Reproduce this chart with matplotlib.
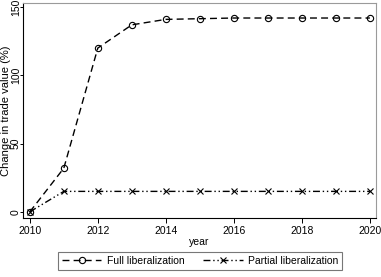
import matplotlib
matplotlib.use("Agg")
from matplotlib import pyplot as plt

years = [2010, 2011, 2012, 2013, 2014, 2015, 2016, 2017, 2018, 2019, 2020]
full_lib = [0, 32, 120, 137, 141, 141.5, 142, 142, 142, 142, 142]
partial_lib = [0, 15, 15, 15, 15, 15, 15, 15, 15, 15, 15]
x_ticks = [2010, 2012, 2014, 2016, 2018, 2020]
y_ticks = [0, 50, 100, 150]

plt.rcParams['font.family'] = ['Liberation Sans', 'DejaVu Sans']

fig = plt.figure(figsize=(3.81, 2.77), dpi=100)
ax = fig.add_axes([23 / 381, (277 - 218) / 277, (376 - 23) / 381, (218 - 3) / 277])

ax.plot(years, full_lib, color='black', lw=1.0, dashes=(5, 3),
        marker='o', ms=4.5, mfc='none', mec='black', mew=0.8,
        label='Full liberalization')
ax.plot(years, partial_lib, color='black', lw=1.0, dashes=(5, 2, 1, 2, 1, 2),
        marker='x', ms=4, mew=0.8, label='Partial liberalization')

ax.set_xlim(2009.8, 2020.18)
ax.set_ylim(-4.5, 153)
ax.set_xticks(x_ticks)
ax.set_yticks(y_ticks)
ax.tick_params(direction='out', width=0.7, labelsize=7.5)
ax.tick_params(axis='x', length=3.5, pad=2)
ax.tick_params(axis='y', length=2.5, pad=-1)
for lab in ax.get_yticklabels():
    lab.set_rotation(90)
    lab.set_va('center')

ax.set_xlabel('year', fontsize=7.5, labelpad=1)
ax.set_ylabel('Change in trade value (%)', fontsize=8)
ax.yaxis.set_label_coords(-0.033, 0.5)

for side in ['top', 'right']:
    ax.spines[side].set_color('#9a9a9a')
    ax.spines[side].set_linewidth(0.8)
for side in ['left', 'bottom']:
    ax.spines[side].set_linewidth(0.8)

leg = fig.legend(loc='center', bbox_to_anchor=(200 / 381, 1 - 261 / 277),
                 ncol=2, fontsize=7.5, frameon=True, fancybox=False,
                 edgecolor='#555555', handlelength=3.8, columnspacing=1.8,
                 borderpad=0.4, handletextpad=0.5)
leg.get_frame().set_linewidth(0.8)

fig.savefig('out.png', dpi=100)
